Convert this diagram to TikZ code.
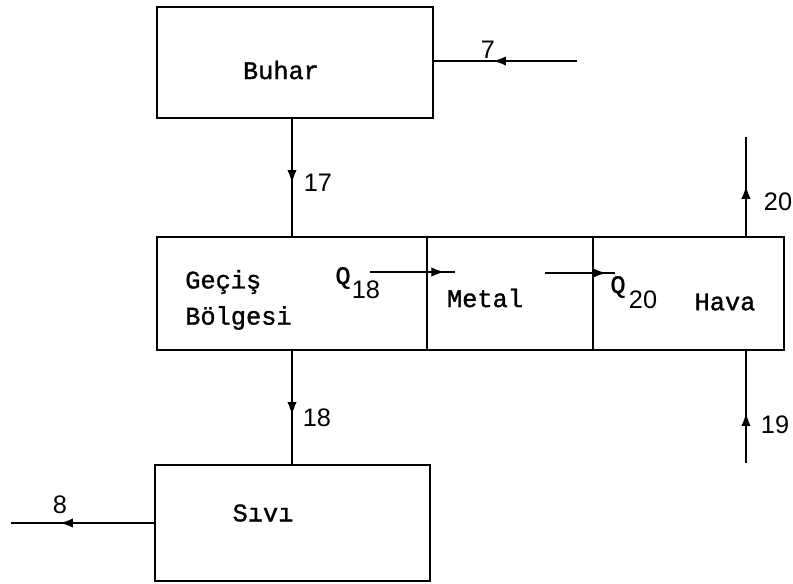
\documentclass[tikz,border=0pt]{standalone}
\usepackage{fontspec}
\usetikzlibrary{decorations.markings,arrows.meta}
\newfontfamily\twfont[FakeBold=1.2]{Liberation Mono}
\newfontfamily\numfont{Liberation Sans}
\begin{document}
\begin{tikzpicture}[x=0.75pt,y=-0.75pt,
  box/.style={draw, line width=1.5pt, inner sep=0pt},
  word/.style={font=\twfont\fontsize{19}{22}\selectfont, inner sep=0pt},
  num/.style={font=\numfont\fontsize{19}{22}\selectfont, inner sep=0pt},
  flow/.style={line width=1.4pt, postaction={decorate},
    decoration={markings, mark=at position #1 with {\arrow{Latex[length=10pt,width=7pt]}}}}]
\useasboundingbox (0,0) rectangle (793,583);
% boxes
\node[box, minimum width=207pt, minimum height=83.25pt] (buhar) at (295,62.5) {};
\node[box, minimum width=202.5pt, minimum height=84.75pt] (gecis) at (292,293.5) {};
\node[box, minimum width=124.5pt, minimum height=84.75pt] (metal) at (510,293.5) {};
\node[box, minimum width=143.25pt, minimum height=84.75pt] (hava) at (688.5,293.5) {};
\node[box, minimum width=206.25pt, minimum height=87pt] (sivi) at (292.5,523) {};
% texts
\node[word] (tbuhar) at (281,70) {Buhar};
\node[word, anchor=west] (tgecis) at (185,282) {Geçiş};
\node[word, anchor=west] (tbolg) at (185,318) {Bölgesi};
\node[word] (tq18) at (343,278) {Q};
\node[num] (sq18) at (366,290) {18};
\node[word] (tmetal) at (485,298) {Metal};
\node[word] (tq20) at (618,287) {Q};
\node[num] (sq20) at (643,300) {20};
\node[word] (thava) at (725,302) {Hava};
\node[word] (tsivi) at (263,513) {Sıvı};
% flow labels
\node[num] (l7) at (488,50) {7};
\node[num] (l8) at (60,505) {8};
\node[num] (l17) at (318,183) {17};
\node[num] (l18) at (317,418) {18};
\node[num] (l19) at (775,425) {19};
\node[num] (l20) at (778,202) {20};
% free ends
\coordinate (c7) at (577,61);
\coordinate (c8) at (11,523);
\coordinate (c20) at (746,137);
\coordinate (c19) at (746,463);
\coordinate (q18a) at (370,272);
\coordinate (q18b) at (455,272);
\coordinate (q20a) at (545,273);
\coordinate (q20b) at (615,273);
% connectors
\draw[flow=0.59] (c7) -- (buhar.east |- c7);
\draw[flow=0.55] (buhar.south -| gecis.north) -- (gecis.north);
\draw[flow=0.57] (gecis.south) -- (sivi.north -| gecis.south);
\draw[flow=0.51] (hava.north -| c20) -- (c20);
\draw[flow=0.45] (c19) -- (hava.south -| c19);
\draw[flow=0.66] (sivi.west) -- (c8);
\draw[flow=0.88] (q18a) -- (q18b);
\draw[flow=0.88] (q20a) -- (q20b);
\end{tikzpicture}
\end{document}
